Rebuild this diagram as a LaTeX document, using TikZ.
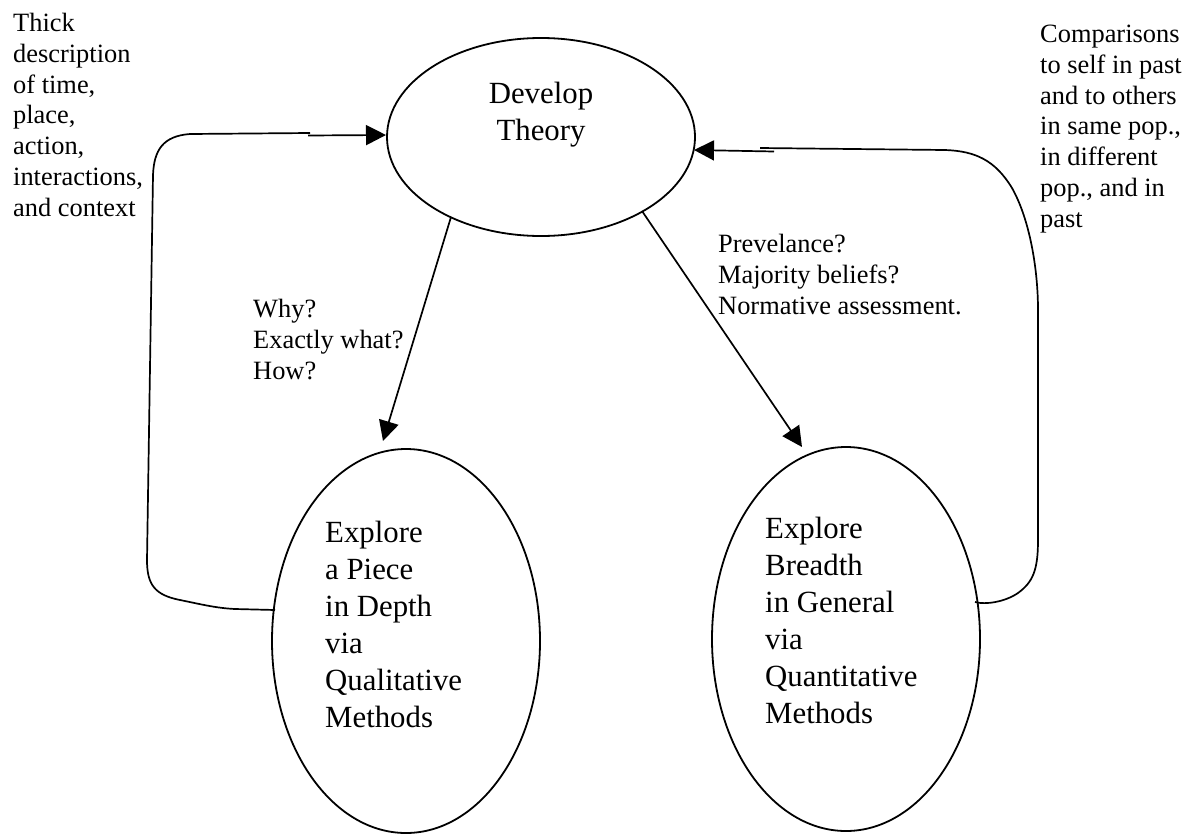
\documentclass[tikz,border=0pt]{standalone}
\usepackage{fontspec}
\setmainfont{Liberation Serif}
\usetikzlibrary{shapes.geometric,arrows.meta}
\begin{document}
\begin{tikzpicture}[x=1pt,y=-1pt,
  conn/.style={line width=1.7pt,line join=round},
  arr/.style={line width=1.7pt,-{Triangle[length=20pt,width=20pt]}},
  oval/.style={ellipse,draw,line width=1.8pt,inner sep=0pt},
  small/.style={font=\fontsize{26.4}{30.7}\selectfont,align=left,inner sep=0pt,anchor=base west},
  big/.style={font=\fontsize{30.8}{37}\selectfont,inner sep=0pt}]
\useasboundingbox (0,0) rectangle (1188,833);

% ellipses
\node[oval,minimum width=308pt,minimum height=198pt] (theory) at (541,137) {};
\node[oval,minimum width=268pt,minimum height=384pt] (qual) at (406,641) {};
\node[oval,minimum width=268pt,minimum height=384pt] (quant) at (846,639) {};

% ellipse texts (anchored at the baseline of the last line)
\node[big,align=center,anchor=base] (theorytext) at (541,140) {Develop\\Theory};
\node[big,align=left,anchor=base west] (qualtext) at (325,727) {Explore\\a Piece\\in Depth\\via\\Qualitative\\Methods};
\node[big,align=left,anchor=base west] (quanttext) at (765,723) {Explore\\Breadth\\in General\\via\\Quantitative\\Methods};

% annotations (anchored at the baseline of the last line)
\node[small] (thick) at (13,216) {Thick\\description\\of time,\\place,\\action,\\interactions,\\and context};
\node[small] (comp) at (1040,227) {Comparisons\\to self in past\\and to others\\in same pop.,\\in different\\pop., and in\\past};
\node[small] (why) at (253,379) {Why?\\Exactly what?\\How?};
\node[small] (prev) at (718,314) {Prevelance?\\Majority beliefs?\\Normative assessment.};

% connector coordinates
\coordinate (thL) at (451,217);
\coordinate (thR) at (642,211);
\coordinate (qualTip) at (383,441);
\coordinate (quantTip) at (802,447);
\coordinate (thWest) at (386,135);
\coordinate (thEast) at (694,150);
\coordinate (qualOut) at (275,610);
\coordinate (quantOut) at (975,602);
\coordinate (lJoin) at (310,133);
\coordinate (lJoinB) at (308,135.5);
\coordinate (rJoin) at (760,148);
\coordinate (rJoinB) at (774,151.5);

% downward arrows
\draw[arr] (thL) -- (qualTip);
\draw[arr] (thR) -- (quantTip);

% left feedback loop
\draw[conn] (qualOut) -- (235,609) .. controls (215,608) and (200,604) .. (180,600)
  .. controls (155,595) and (147,585) .. (147,560) -- (153,175)
  .. controls (154,150) and (163,136) .. (190,134) -- (lJoin);
\draw[arr] (lJoinB) -- (thWest);

% right feedback loop
\draw[conn] (quantOut) .. controls (985,605) and (1005,602) .. (1018,593)
  .. controls (1033,582) and (1038,570) .. (1038,540) -- (1038,310)
  .. controls (1038,270) and (1030,220) .. (1012,188)
  .. controls (995,160) and (975,151) .. (945,150) -- (rJoin);
\draw[arr] (rJoinB) -- (thEast);
\end{tikzpicture}
\end{document}
